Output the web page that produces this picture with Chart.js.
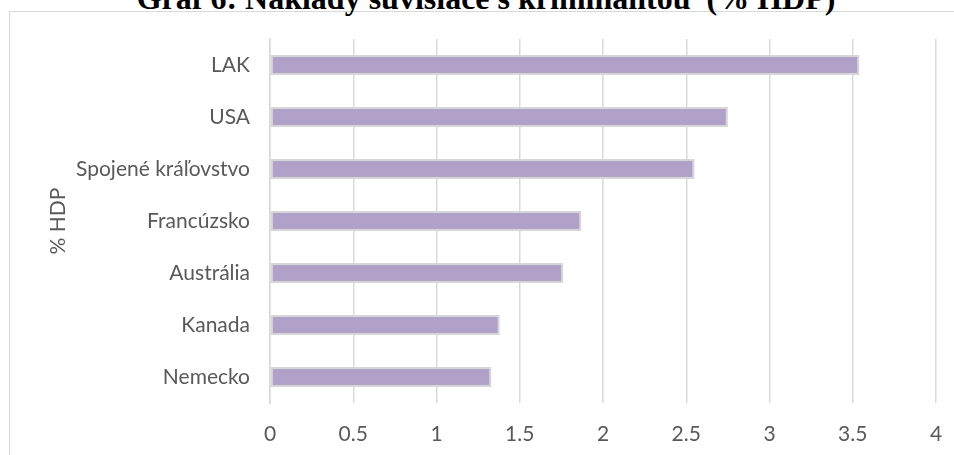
<!DOCTYPE html>
<html>
<head>
<meta charset="utf-8">
<script src="https://cdn.jsdelivr.net/npm/chart.js@4"></script>
<style>
  body { margin: 0; width: 954px; height: 455px; overflow: hidden; background: #fff; position: relative; }
  #frame { position: absolute; left: 9px; top: 11px; width: 1000px; height: 500px; border: 1.5px solid #d9d9d9; }
  #title { position: absolute; left: 0; width: 972px; top: -20px; text-align: center; line-height: 32px;
    font: bold 32px "Liberation Serif", serif; color: #000; white-space: pre; }
  #wrap { position: absolute; left: 0; top: 0; width: 954px; height: 455px; }
</style>
</head>
<body>
<div id="frame"></div>
<div id="title">Graf 6: Náklady súvisiace s kriminalitou  (% HDP)</div>
<div id="wrap"><canvas id="crimeChart"></canvas></div>
<script>
const ctx = document.getElementById("crimeChart").getContext("2d");

// categories top to bottom, as in the picture
const countries = [
  "LAK",
  "USA",
  "Spojené kráľovstvo",
  "Francúzsko",
  "Austrália",
  "Kanada",
  "Nemecko",
];
const costs = [3.54, 2.75, 2.55, 1.87, 1.76, 1.38, 1.33];
const xTicks = [0, 0.5, 1, 1.5, 2, 2.5, 3, 3.5, 4];

const textColor = "#595959";
const gridColor = "#d9d9d9";
const labelFont = { family: "Lato", size: 21 };

new Chart(ctx, {
  type: "bar",
  data: {
    labels: countries,
    datasets: [
      {
        label: "% HDP",
        data: costs,
        backgroundColor: "#b1a0c7",
        borderColor: "#d6d6d6",
        borderWidth: 2,
        borderSkipped: false,
        categoryPercentage: 1,
        barPercentage: 0.38,
      },
    ],
  },
  options: {
    indexAxis: "y",
    responsive: true,
    maintainAspectRatio: false,
    animation: false,
    layout: { padding: { left: 40, top: 39, right: 0, bottom: 0 } },
    plugins: {
      legend: { display: false },
      tooltip: { enabled: false },
    },
    scales: {
      x: {
        min: 0,
        max: 4,
        afterBuildTicks: (scale) => {
          scale.ticks = xTicks.map((v) => ({ value: v }));
        },
        afterFit: (scale) => {
          scale.height = 52;
          scale.paddingLeft = 0;
          scale.paddingRight = 18;
        },
        grid: { color: gridColor, lineWidth: 1.5, drawTicks: false },
        border: { display: false },
        ticks: {
          color: textColor,
          font: labelFont,
          padding: 19,
          callback: (value) => String(value),
        },
      },
      y: {
        afterFit: (scale) => {
          scale.width = 230;
        },
        grid: { display: false, drawTicks: false },
        border: { display: true, color: gridColor, width: 1.5 },
        ticks: { color: textColor, font: labelFont, padding: 20 },
        title: {
          display: true,
          text: "% HDP",
          color: textColor,
          font: labelFont,
          padding: { top: 6, bottom: 0 },
        },
      },
    },
  },
});
</script>
</body>
</html>
